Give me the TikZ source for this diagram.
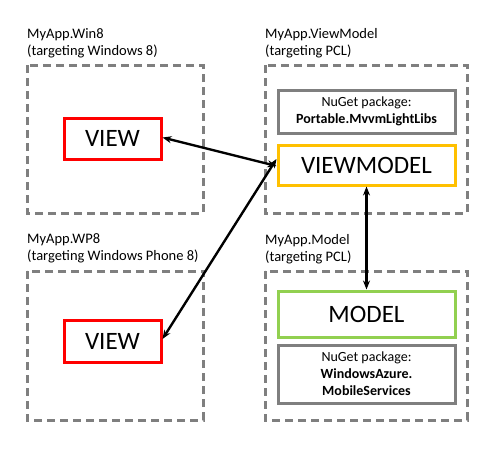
\documentclass[tikz,border=0pt]{standalone}
\usepackage{fontspec}
\setmainfont{Carlito}
\usetikzlibrary{arrows.meta}
\definecolor{dgray}{HTML}{7F7F7F}
\definecolor{vmgold}{HTML}{FFC000}
\definecolor{mgreen}{HTML}{92D050}
\definecolor{vred}{HTML}{FF0000}
\begin{document}
\begin{tikzpicture}[x=1pt,y=-1pt,
  proj/.style={draw=dgray,line width=3pt,dash pattern=on 8pt off 5pt},
  inner/.style={draw,line width=3pt,inner sep=0pt,font=\fontsize{25}{28}\selectfont},
  pkg/.style={draw=dgray,line width=3pt,inner sep=0pt,align=center,font=\fontsize{14}{17}\selectfont},
  lbl/.style={anchor=north west,align=left,inner sep=0pt,font=\fontsize{14.5}{17}\selectfont},
  link/.style={line width=2.4pt,{Stealth[length=9pt,width=7pt]}-{Stealth[length=9pt,width=7pt]}}]
\useasboundingbox (0,0) rectangle (488,464);
% project boxes
\draw[proj] (27,65) rectangle (203,213);
\draw[proj] (265,65) rectangle (467,213);
\draw[proj] (27,271) rectangle (203,420);
\draw[proj] (265,271) rectangle (467,420);
% labels
\node[lbl] (l1) at (27,28) {MyApp.Win8\\(targeting Windows 8)};
\node[lbl] (l2) at (265,28) {MyApp.ViewModel\\(targeting PCL)};
\node[lbl] (l3) at (27,233) {MyApp.WP8\\(targeting Windows Phone 8)};
\node[lbl] (l4) at (265,234) {MyApp.Model\\(targeting PCL)};
% inner boxes
\node[inner,draw=vred,minimum width=97pt,minimum height=41pt] (v1) at (112.5,138.5) {VIEW};
\node[inner,draw=vred,minimum width=97pt,minimum height=42pt] (v2) at (112.5,341) {VIEW};
\node[pkg,minimum width=177pt,minimum height=43pt] (p1) at (366.5,111.5) {NuGet package:\\\textbf{Portable.MvvmLightLibs}};
\node[inner,draw=vmgold,minimum width=177pt,minimum height=40pt] (vm) at (366.5,165) {VIEWMODEL};
\node[inner,draw=mgreen,minimum width=177pt,minimum height=46pt] (m) at (366.5,314) {MODEL};
\node[pkg,minimum width=177pt,minimum height=58pt] (p2) at (366.5,374) {NuGet package:\\\textbf{WindowsAzure.}\\\textbf{MobileServices}};
% connectors
\draw[link] ([yshift=1pt]v1.east) -- ([yshift=-1pt]vm.west);
\draw[link] ([yshift=2pt]v2.east) -- ([yshift=6pt]vm.west);
\draw[link] (vm.south) -- (m.north);
\end{tikzpicture}
\end{document}
